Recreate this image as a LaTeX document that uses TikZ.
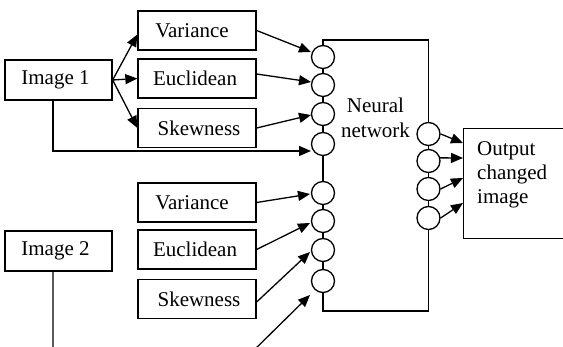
\documentclass[tikz,border=0pt]{standalone}
\usepackage{fontspec}
\setmainfont{Liberation Serif}
\usepackage{tikz}
\usetikzlibrary{arrows.meta,positioning,calc}
\tikzset{
  fbox/.style={draw,line width=1.3pt,inner sep=0pt,align=center,
               font=\fontsize{21}{24}\selectfont,
               minimum width=118pt,minimum height=39pt},
  ibox/.style={fbox,minimum width=107pt,minimum height=40pt},
  neuron/.style={draw,circle,fill=white,line width=1.3pt,
                 minimum size=23pt,inner sep=0pt},
  arr/.style={-{Triangle[length=12pt,width=10pt]},line width=1.3pt},
  lin/.style={line width=1.3pt},
}

\begin{document}
\begin{tikzpicture}[x=1pt,y=1pt]
  \useasboundingbox (0,0) rectangle (563,347);

  % inputs
  \node[ibox] (img1) at (58.5,267) {Image 1\hspace{6pt}};
  \node[ibox] (img2) at (58.5,96) {Image 2\hspace{6pt}};
  \node[fbox] (var1) at (197,316.5) {Variance\hspace{10pt}};
  \node[fbox] (euc1) at (197,268.5) {Euclidean\hspace{4pt}};
  \node[fbox] (skw1) at (197,219) {\hspace{4pt}Skewness};
  \node[fbox] (var2) at (197,144.5) {Variance\hspace{10pt}};
  \node[fbox] (euc2) at (197,97.5) {Euclidean\hspace{4pt}};
  \node[fbox] (skw2) at (197,48) {\hspace{4pt}Skewness};

  % network frame
  \coordinate (nntl) at (323,307);
  \coordinate (nntr) at (428.5,307);
  \coordinate (nnbr) at (428.5,36);
  \coordinate (nnbl) at (323,36);
  \draw[lin] (nntl) -- (nntr) -- (nnbr) -- (nnbl) -- cycle;

  \node[neuron] (l1) at (323,290) {};
  \node[neuron] (l2) at (323,262) {};
  \node[neuron] (l3) at (323,233) {};
  \node[neuron] (l4) at (323,203) {};
  \node[neuron] (l5) at (323,154) {};
  \node[neuron] (l6) at (323,126) {};
  \node[neuron] (l7) at (323,97) {};
  \node[neuron] (l8) at (323,66) {};
  \node[neuron] (r1) at (428.5,213) {};
  \node[neuron] (r2) at (428.5,186) {};
  \node[neuron] (r3) at (428.5,158) {};
  \node[neuron] (r4) at (428.5,129) {};

  \node[align=center,inner sep=0pt,font=\fontsize{21}{25}\selectfont]
    (nnlbl) at (375.5,229) {Neural\\network};

  % output
  \node[draw,line width=1.3pt,anchor=north west,minimum width=150pt,
        minimum height=110pt] (out) at (463,219) {};
  \node[anchor=north west,align=left,inner sep=0pt,
        font=\fontsize{21}{24}\selectfont] (outtxt) at (477,206)
        {Output\\changed\\image};

  % connectors
  \draw[arr] (img1.east) -- ($(var1.west)+(0,-4)$);
  \draw[arr] (img1.east) -- (euc1.west);
  \draw[arr] (img1.east) -- (skw1.west);

  \draw[arr] (var1.east) -- ($(l1)+(-12,5)$);
  \draw[arr] ($(euc1.east)+(0,4.5)$) -- ($(l2)+(-12,3)$);
  \draw[arr] (skw1.east) -- ($(l3)+(-12,-1)$);
  \draw[arr] ($(img1.south)+(-5.5,0)$) |- ($(l4)+(-12,-7)$);

  \draw[arr] (var2.east) -- ($(l5)+(-13,-1)$);
  \draw[arr] (euc2.east) -- ($(l6)+(-13,-2)$);
  \draw[arr] ($(skw2.east)+(0,-3)$) -- ($(l7)+(-13,-2)$);
  \draw[arr] ($(img2.south)+(-5.5,0)$) -- (53,-10) -- (247,-10)
             -- ($(l8)+(-13,-14)$);

  \draw[arr] (r1.east) -- ($(out.north west)+(0,-15)$);
  \draw[arr] (r2.15) -- ($(out.north west)+(0,-30)$);
  \draw[arr] (r3.east) -- ($(out.north west)+(0,-50)$);
  \draw[arr] (r4.east) -- ($(out.north west)+(0,-75)$);
\end{tikzpicture}
\end{document}
